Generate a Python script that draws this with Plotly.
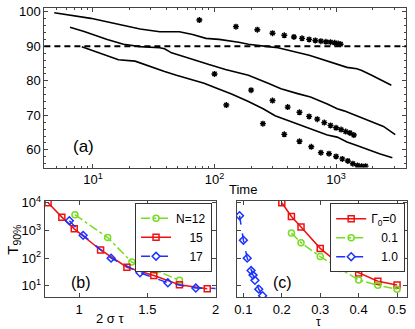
import plotly.graph_objects as go

# ---------------- data: panel (a) ----------------
a_c1_t = [4.8, 9.6, 14.8, 24.4, 35.4, 51.4, 66, 85, 109, 139, 158, 190, 215, 276, 333, 401, 483, 601, 747, 988, 1230, 1483, 1628, 1963, 2850]
a_c1_y = [99.7, 98.1, 96.7, 95.0, 94.2, 94.2, 93.4, 92.3, 92.0, 91.5, 91.2, 90.6, 90.3, 89.9, 89.6, 89.0, 88.2, 87.4, 86.3, 84.9, 83.9, 83.5, 83.0, 81.6, 78.7]
a_c2_t = [6.47, 8.45, 13.1, 17.8, 24.4, 35.4, 38.8, 44.3, 56.4, 74.7, 90, 123, 190, 276, 352, 483, 616, 847, 1021, 1164, 1483, 1890, 2454, 3068]
a_c2_y = [95.5, 94.3, 92.0, 90.6, 89.9, 89.6, 89.3, 88.1, 87.0, 85.5, 84.7, 83.3, 81.6, 79.3, 77.7, 76.3, 75.3, 73.3, 71.9, 71.3, 69.8, 68.5, 66.8, 64.4]
a_c3_t = [8.09, 10.5, 16.2, 22.2, 29.4, 38.8, 48.6, 65.5, 82, 103, 138, 190, 251, 315, 401, 511, 664, 847, 1021, 1230, 1483, 1890, 2277, 2904]
a_c3_y = [89.9, 88.4, 86.1, 85.7, 84.1, 82.7, 81.6, 80.4, 79.3, 77.9, 76.2, 74.0, 71.9, 69.9, 68.5, 67.1, 65.5, 64.3, 63.7, 62.3, 61.3, 59.9, 58.9, 57.7]

a_s1_t = [75, 150, 225, 300, 375, 450, 525, 600, 675, 750, 825, 900, 975, 1040, 1090]
a_s1_y = [97.6, 95.7, 94.8, 93.8, 93.2, 92.7, 92.3, 92.0, 91.7, 91.5, 91.3, 91.2, 91.0, 90.8, 90.6]
a_s2_t = [100, 200, 300, 400, 500, 600, 700, 800, 900, 1000, 1100, 1200, 1300, 1400]
a_s2_y = [82.0, 77.3, 74.3, 72.4, 70.9, 69.7, 68.9, 67.9, 67.1, 66.4, 65.9, 65.3, 64.9, 64.3]
a_s3_t = [125, 250, 375, 500, 625, 750, 875, 1000, 1125, 1250, 1375, 1500, 1625, 1750]
a_s3_y = [73.0, 67.6, 64.5, 62.5, 60.9, 59.2, 58.9, 58.1, 57.4, 56.8, 56.0, 55.5, 55.3, 55.3]
threshold = 90

a_xticks = [10, 100, 1000]
a_xticktext = ["10<sup>1</sup>", "10<sup>2</sup>", "10<sup>3</sup>"]
a_yticks = [60, 70, 80, 90, 100]

# ---------------- data: panel (b) ----------------
b_n12_x = [0.969, 1.209, 1.386, 1.561, 1.735]
b_n12_y = [3700, 550, 72, 36, 15.9]
b_n15_x = [0.772, 0.873, 0.964, 1.157, 1.350, 1.547, 1.735, 1.939]
b_n15_y = [10000, 3020, 1140, 197, 47, 23.7, 10.9, 7.9]
b_n17_x = [0.928, 1.029, 1.234, 1.446, 1.650, 1.855, 2.06]
b_n17_y = [2250, 665, 100, 29.5, 12.9, 8.3, 8.0]
b_names = ["N=12", "\u00a0\u00a0\u00a0\u00a015", "\u00a0\u00a0\u00a0\u00a017"]
b_xticks = [1, 1.5, 2]
b_xticktext = ["1", "1.5", "2"]

# ---------------- data: panel (c) ----------------
c_g0_x = [0.2, 0.225, 0.25, 0.3, 0.35, 0.4, 0.45, 0.5]
c_g0_y = [10000, 3200, 1320, 225, 61, 29, 14.7, 10.7]
c_g01_x = [0.225, 0.25, 0.3, 0.35, 0.4, 0.45, 0.5]
c_g01_y = [800, 360, 114, 42, 16.2, 10.5, 7.6]
c_g1_x = [0.09, 0.1, 0.11, 0.12, 0.125, 0.13, 0.14, 0.15]
c_g1_y = [3400, 445, 100, 35.6, 24.4, 15.9, 7.6, 4.4]
c_names = ["\u0393<sub>0</sub>=0", "\u00a0\u00a0\u00a00.1", "\u00a0\u00a0\u00a01.0"]
c_xticks = [0.1, 0.2, 0.3, 0.4, 0.5]
c_xticktext = ["0.1", "0.2", "0.3", "0.4", "0.5"]

log_yticks = [10, 100, 1000, 10000]
log_yticktext = ["10<sup>1</sup>", "10<sup>2</sup>", "10<sup>3</sup>", "10<sup>4</sup>"]

# ---------------- styling ----------------
W, H = 415, 329
FONT = "Liberation Sans, Arial, Helvetica, sans-serif"
AX = "#444444"
GREEN = "#77dd22"
RED = "#ee1111"
BLUE = "#1a33ff"

def fx(px):
    return px / W

def fy(py):
    return 1 - py / H

fig = go.Figure()

# panel (a)
for t, y in [(a_c1_t, a_c1_y), (a_c2_t, a_c2_y), (a_c3_t, a_c3_y)]:
    fig.add_trace(go.Scatter(x=t, y=y, mode="lines", line=dict(color="black", width=1.6),
                             showlegend=False, xaxis="x", yaxis="y"))
for t, y in [(a_s1_t, a_s1_y), (a_s2_t, a_s2_y), (a_s3_t, a_s3_y)]:
    fig.add_trace(go.Scatter(x=t, y=y, mode="markers",
                             marker=dict(symbol="asterisk-open", size=5, color="black",
                                         line=dict(color="black", width=1.4)),
                             showlegend=False, xaxis="x", yaxis="y", cliponaxis=True))
fig.add_hline(y=threshold, line=dict(color="black", width=2, dash="6px,4px"), xref="x", yref="y")

# panel (b)
MS = 6
fig.add_trace(go.Scatter(x=b_n12_x, y=b_n12_y, mode="lines+markers", name=b_names[0],
                         line=dict(color=GREEN, width=1.5, dash="dashdot"),
                         marker=dict(symbol="circle-open", size=MS, color=GREEN, line=dict(width=1.5)),
                         xaxis="x2", yaxis="y2", legend="legend"))
fig.add_trace(go.Scatter(x=b_n15_x, y=b_n15_y, mode="lines+markers", name=b_names[1],
                         line=dict(color=RED, width=1.5),
                         marker=dict(symbol="square-open", size=MS, color=RED, line=dict(width=1.5)),
                         xaxis="x2", yaxis="y2", legend="legend"))
fig.add_trace(go.Scatter(x=b_n17_x, y=b_n17_y, mode="lines+markers", name=b_names[2],
                         line=dict(color=BLUE, width=1.5, dash="dash"),
                         marker=dict(symbol="diamond-open", size=MS, color=BLUE, line=dict(width=1.5)),
                         xaxis="x2", yaxis="y2", legend="legend"))

# panel (c)
fig.add_trace(go.Scatter(x=c_g0_x, y=c_g0_y, mode="lines+markers", name=c_names[0],
                         line=dict(color=RED, width=1.5),
                         marker=dict(symbol="square-open", size=MS, color=RED, line=dict(width=1.5)),
                         xaxis="x3", yaxis="y3", legend="legend2"))
fig.add_trace(go.Scatter(x=c_g01_x, y=c_g01_y, mode="lines+markers", name=c_names[1],
                         line=dict(color=GREEN, width=1.5, dash="dashdot"),
                         marker=dict(symbol="circle-open", size=MS, color=GREEN, line=dict(width=1.5)),
                         xaxis="x3", yaxis="y3", legend="legend2"))
fig.add_trace(go.Scatter(x=c_g1_x, y=c_g1_y, mode="lines+markers", name=c_names[2],
                         line=dict(color=BLUE, width=1.5, dash="dash"),
                         marker=dict(symbol="diamond-open", size=MS, color=BLUE, line=dict(width=1.5)),
                         xaxis="x3", yaxis="y3", legend="legend2"))

common = dict(showline=True, linecolor=AX, linewidth=1, mirror="allticks", ticks="inside",
              ticklen=4, tickcolor=AX, tickwidth=1, showgrid=False, zeroline=False,
              tickfont=dict(family=FONT, size=13, color="black"))

a_minor_x = [m * d for d in [1, 10, 100, 1000] for m in range(2, 10)]

fig.update_layout(
    width=W, height=H, margin=dict(l=0, r=0, t=0, b=0),
    paper_bgcolor="white", plot_bgcolor="white",
    font=dict(family=FONT, size=13, color="black"),
    xaxis=dict(domain=[fx(43), fx(410)], type="log", range=[0.6, 3.576], anchor="y",
               tickmode="array", tickvals=a_xticks, ticktext=a_xticktext,
               minor=dict(ticks="inside", ticklen=2, tickcolor=AX, tickmode="array", tickvals=a_minor_x),
               **common),
    yaxis=dict(domain=[fy(164), fy(1)], range=[54.9, 101.1], anchor="x",
               tickmode="array", tickvals=a_yticks,
               minor=dict(ticks="inside", ticklen=2, tickcolor=AX, tickmode="linear", tick0=0, dtick=2),
               **common),
    xaxis2=dict(domain=[fx(43.3), fx(216.7)], range=[0.747, 2.0], anchor="y2",
                tickmode="array", tickvals=b_xticks, ticktext=b_xticktext, **common),
    yaxis2=dict(domain=[fy(296.5), fy(198)], type="log", range=[0.59, 4.07], anchor="x2",
                tickmode="array", tickvals=log_yticks, ticktext=log_yticktext, **common),
    xaxis3=dict(domain=[fx(238.3), fx(411)], range=[0.083, 0.526], anchor="y3",
                tickmode="array", tickvals=c_xticks, ticktext=c_xticktext, **common),
    yaxis3=dict(domain=[fy(296.5), fy(198)], type="log", range=[0.59, 4.07], anchor="x3",
                tickmode="array", tickvals=log_yticks, showticklabels=False, **common),
    legend=dict(x=fx(135), y=fy(200), xanchor="left", yanchor="top",
                bgcolor="white", bordercolor="#333", borderwidth=1,
                font=dict(family=FONT, size=12), tracegroupgap=0, itemwidth=30),
    legend2=dict(x=fx(333), y=fy(200.5), xanchor="left", yanchor="top",
                 bgcolor="white", bordercolor="#333", borderwidth=1,
                 font=dict(family=FONT, size=12), tracegroupgap=0, itemwidth=30),
)

ann = [
    dict(text="(a)", x=fx(83), y=fy(143), size=17),
    dict(text="Time", x=fx(245), y=fy(186), size=13),
    dict(text="(b)", x=fx(80), y=fy(281), size=16),
    dict(text="(c)", x=fx(285), y=fy(281), size=16),
    dict(text="2 \u03c3 \u03c4", x=fx(110), y=fy(318), size=13),
    dict(text="\u03c4", x=fx(321), y=fy(322), size=12),
]
for a in ann:
    fig.add_annotation(text=a["text"], x=a["x"], y=a["y"], xref="paper", yref="paper",
                       showarrow=False, xanchor="center", yanchor="middle",
                       font=dict(family=FONT, size=a["size"], color="black"))
fig.add_annotation(text="T<sub>90%</sub>", x=fx(12), y=fy(238), xref="paper", yref="paper",
                   showarrow=False, textangle=-90, xanchor="center", yanchor="middle",
                   font=dict(family=FONT, size=15, color="black"))

fig.write_html("out.html", config={"displayModeBar": False},
               post_script="document.body.style.margin='0px';document.body.style.padding='0px';")
